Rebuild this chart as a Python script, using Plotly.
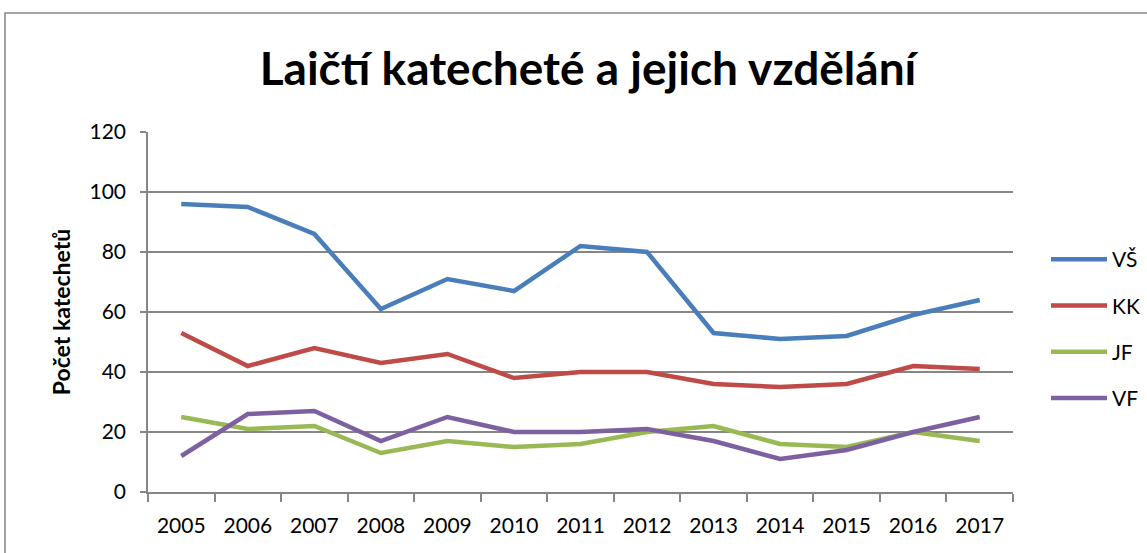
import plotly.graph_objects as go

years = ["2005", "2006", "2007", "2008", "2009", "2010", "2011", "2012", "2013", "2014", "2015", "2016", "2017"]
vs = [96, 95, 86, 61, 71, 67, 82, 80, 53, 51, 52, 59, 64]
kk = [53, 42, 48, 43, 46, 38, 40, 40, 36, 35, 36, 42, 41]
jf = [25, 21, 22, 13, 17, 15, 16, 20, 22, 16, 15, 20, 17]
vf = [12, 26, 27, 17, 25, 20, 20, 21, 17, 11, 14, 20, 25]

series_names = ["VŠ", "KK", "JF", "VF"]
series_values = [vs, kk, jf, vf]
colors = ["#4A7EBB", "#BE4B48", "#98B954", "#7D60A0"]

FONT = "Lato"
GRID = "#868686"

fig = go.Figure()
for name, vals, col in zip(series_names, series_values, colors):
    fig.add_trace(go.Scatter(
        x=years, y=vals, name=name, mode="lines", legendgroup=name,
        line=dict(color=col, width=4.5),
    ))

fig.update_layout(
    width=1147, height=553,
    paper_bgcolor="white", plot_bgcolor="white",
    margin=dict(l=148, r=134, t=132, b=61, autoexpand=False),
    title=dict(text="<b>Laičtí katecheté a jejich vzdělání</b>",
               x=588 / 1147, xanchor="center", y=1 - 69 / 553, yanchor="middle",
               font=dict(family=FONT, size=46, color="black")),
    font=dict(family=FONT, size=21, color="black"),
    showlegend=True,
    legend=dict(x=(1145 - 148) / 865, xanchor="right", y=(492 - 329) / 360, yanchor="middle",
                font=dict(family=FONT, size=21, color="black"),
                tracegroupgap=16, traceorder="grouped", itemwidth=56,
                bgcolor="rgba(0,0,0,0)"),
    xaxis=dict(type="category", range=[-0.5, 12.5], tickson="boundaries",
               ticks="outside", ticklen=8, tickcolor=GRID, tickwidth=1.5,
               showline=True, linecolor=GRID, linewidth=1.5,
               showgrid=False, tickfont=dict(family=FONT, size=21),
               ticklabelstandoff=14, fixedrange=True, automargin=False),
    yaxis=dict(range=[0, 120], dtick=20, tick0=0,
               ticks="outside", ticklen=6, tickcolor=GRID, tickwidth=1.5,
               showline=True, linecolor=GRID, linewidth=1.5,
               showgrid=True, gridcolor=GRID, gridwidth=1.5,
               zeroline=False, tickfont=dict(family=FONT, size=21),
               ticklabelstandoff=10, fixedrange=True, automargin=False,
               title=dict(text="<b>Počet katechetů</b>", font=dict(family=FONT, size=23), standoff=12)),
    shapes=[dict(type="rect", xref="paper", yref="paper",
                 x0=(5 - 148) / 865, x1=1.3, y0=-0.4, y1=(492 - 13) / 360,
                 line=dict(color=GRID, width=1.5), fillcolor="rgba(0,0,0,0)", layer="below")],
)

fig.write_html("out.html", config={"displayModeBar": False},
               post_script="document.body.style.margin='0';document.body.style.overflow='hidden';")
